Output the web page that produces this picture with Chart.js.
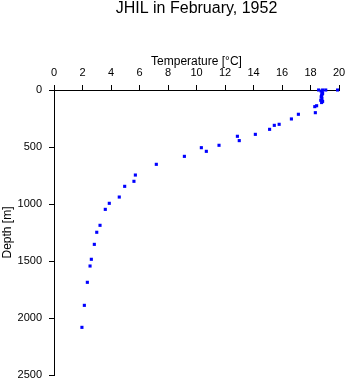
<!DOCTYPE html>
<html>
<head>
<meta charset="utf-8">
<script src="https://cdn.jsdelivr.net/npm/chart.js@4/dist/chart.umd.min.js"></script>
<style>
  html, body { margin: 0; padding: 0; background: #fff; }
  #wrap { width: 348px; height: 384px; }
</style>
</head>
<body>
<div id="wrap"><canvas id="c" width="348" height="384"></canvas></div>
<script>
// Temperature [°C] and Depth [m] of each observation
const temperature = [18.57, 18.85, 19.07, 19.9,
  18.75, 18.82, 18.85, 18.8, 18.78, 18.75, 18.8, 18.72, 18.85, 18.78,
  18.43, 18.3, 18.34, 17.15, 16.66, 15.8, 15.46, 15.13, 14.13, 12.87, 13.0,
  11.58, 10.34, 10.69, 9.15, 7.18, 5.71, 5.61, 4.96, 4.58, 3.88, 3.6,
  3.23, 3.0, 2.83, 2.62, 2.53, 2.34, 2.13, 1.96];
const depth = [0, 0, 0, 0,
  10, 20, 30, 40, 50, 60, 75, 90, 100, 110,
  138, 146, 199, 213, 254, 301, 310, 345, 389, 406, 444,
  485, 506, 538, 582, 652, 746, 801, 845, 939, 994, 1047,
  1187, 1248, 1354, 1485, 1544, 1687, 1889, 2082];
const xTicks = [0, 2, 4, 6, 8, 10, 12, 14, 16, 18, 20];
const yTicks = [0, 500, 1000, 1500, 2000, 2500];
const titleText = 'JHIL in February, 1952';

const points = temperature.map((t, i) => ({ x: t, y: depth[i] }));
const FONT = "'Liberation Sans', Arial, Helvetica, sans-serif";

const plotTitle = {
  id: 'plotTitle',
  afterDraw(chart) {
    const ctx = chart.ctx, a = chart.chartArea;
    ctx.save();
    ctx.fillStyle = '#000';
    ctx.font = '16px ' + FONT;
    ctx.textAlign = 'center';
    ctx.textBaseline = 'middle';
    ctx.fillText(titleText, (a.left + a.right) / 2, 9);
    ctx.restore();
  }
};

new Chart(document.getElementById('c'), {
  type: 'scatter',
  data: {
    datasets: [{
      data: points,
      clip: false,
      pointStyle: 'rect',
      pointRadius: 2.2,
      pointHoverRadius: 2.2,
      pointBorderWidth: 0,
      backgroundColor: '#0000ff',
      borderColor: '#0000ff'
    }]
  },
  plugins: [plotTitle],
  options: {
    responsive: false,
    animation: false,
    devicePixelRatio: 1,
    layout: { padding: { left: 0, right: 9, top: 0, bottom: 9 } },
    plugins: {
      legend: { display: false },
      tooltip: { enabled: false },
      title: { display: false }
    },
    scales: {
      x: {
        type: 'linear',
        position: 'top',
        min: 0, max: 20,
        afterBuildTicks: (s) => { s.ticks = xTicks.map(v => ({ value: v })); },
        afterFit: (s) => { s.height = 90; s.paddingLeft = 0; s.paddingRight = 0; s.paddingTop = 0; s.paddingBottom = 0; },
        ticks: { color: '#000', padding: 5, maxRotation: 0, font: { family: FONT, size: 11 },
                 callback: (v) => String(v) },
        grid: { drawOnChartArea: false, color: '#000', tickLength: 5, lineWidth: 1 },
        border: { color: '#000', width: 1 },
        title: {
          display: true,
          text: 'Temperature [°C]',
          color: '#000',
          font: { family: FONT, size: 12, lineHeight: 1.2 },
          padding: { top: 54, bottom: 0 }
        }
      },
      y: {
        type: 'linear',
        position: 'left',
        reverse: true,
        min: 0, max: 2500,
        afterBuildTicks: (s) => { s.ticks = yTicks.map(v => ({ value: v })); },
        afterFit: (s) => { s.width = 54; s.paddingLeft = 0; s.paddingRight = 0; s.paddingTop = 0; s.paddingBottom = 0; },
        ticks: { color: '#000', padding: 7, font: { family: FONT, size: 11 },
                 callback: (v) => String(v) },
        grid: { drawOnChartArea: false, color: '#000', tickLength: 5, lineWidth: 1 },
        border: { color: '#000', width: 1 },
        title: {
          display: true,
          text: 'Depth [m]',
          color: '#000',
          font: { family: FONT, size: 12, lineHeight: 1.2 },
          padding: { top: 0, bottom: 0 }
        }
      }
    }
  }
});
</script>
</body>
</html>
